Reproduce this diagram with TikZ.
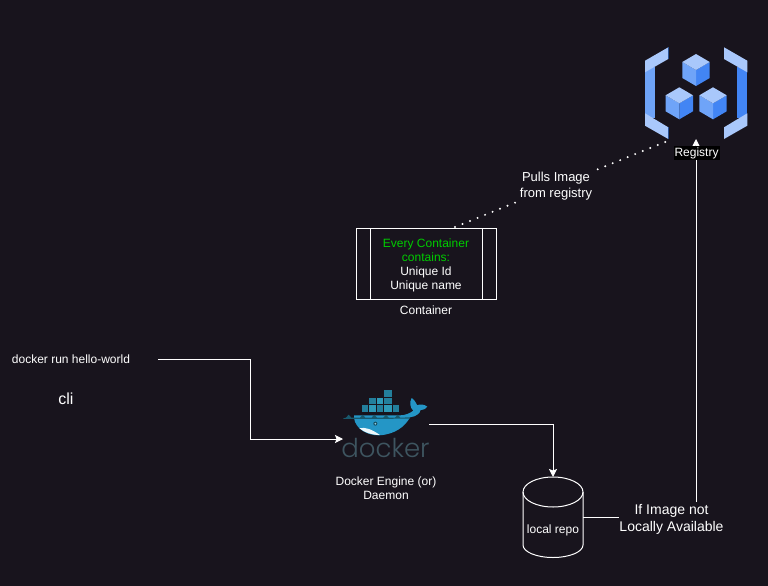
\documentclass[tikz,border=0pt]{standalone}
\usepackage{fontspec}
\setmainfont{Liberation Sans}
\newfontfamily\dockerfont[UprightFont=* Light]{Poppins}
\usetikzlibrary{arrows.meta,shapes.geometric}
\definecolor{bgc}{HTML}{18141D}
\definecolor{awsL}{HTML}{A9C8FB}
\definecolor{awsM}{HTML}{6FA4F8}
\definecolor{awsD}{HTML}{4285F4}
\definecolor{dkA}{HTML}{237F9C}
\definecolor{dkB}{HTML}{2E9AB8}
\definecolor{dkW}{HTML}{2496C6}
\definecolor{dkC}{HTML}{3DAFD8}
\definecolor{dkT}{HTML}{3E5560}
\tikzset{
  wire/.style={draw=white,line width=1pt},
  arr/.style={wire,-{Stealth[length=8pt,width=8pt,inset=1.5pt,fill=white]}},
  txt/.style={text=white,align=center,inner sep=0pt,font=\fontsize{12}{14}\selectfont},
  ghost/.style={inner sep=0pt,outer sep=0pt},
  dots/.style={draw=white,line width=2.2pt,line cap=round,dash pattern=on 0pt off 8.1pt},
  boxline/.style={draw=white,line width=1pt},
  blockA/.style={fill=dkA,draw=bgc,line width=0.3pt},
  blockB/.style={fill=dkB,draw=bgc,line width=0.3pt}
}
\newcommand{\cube}[2]{%
  \fill[awsD] (#1,#2+16) -- (#1+13.7,#2+8) -- (#1+13.7,#2+24) -- (#1,#2+32) -- cycle;
  \fill[awsM] (#1-13.7,#2+8) -- (#1,#2+16) -- (#1,#2+32) -- (#1-13.7,#2+24) -- cycle;
  \fill[awsL] (#1,#2) -- (#1+13.7,#2+8) -- (#1,#2+16) -- (#1-13.7,#2+8) -- cycle;
}
\begin{document}
\begin{tikzpicture}[x=1pt,y=-1pt]
\fill[bgc] (0,0) rectangle (768,586);
\useasboundingbox (0,0) rectangle (768,586);

% registry icon
\node[ghost,minimum width=102pt,minimum height=92pt] (registry) at (696,93) {};
\fill[awsM] (645,67) rectangle (655,118);
\fill[awsL] (668.3,47.3) -- (645,60.7) -- (645,72.3) -- (668.3,59) -- cycle;
\fill[awsL] (645,113.3) -- (668.3,127.3) -- (668.3,139) -- (645,125.7) -- cycle;
\draw[awsD!60!black,line width=0.6pt] (668.3,47.3) -- (668.3,59);
\draw[awsD!60!black,line width=0.6pt] (668.3,127.3) -- (668.3,139);
\fill[awsD] (737.3,67) rectangle (747.3,118);
\fill[awsL] (724,47.3) -- (747.3,60.7) -- (747.3,72.3) -- (724,59) -- cycle;
\fill[awsL] (747.3,113.3) -- (724,127.3) -- (724,139) -- (747.3,125.7) -- cycle;
\cube{696}{54}
\cube{679.3}{87.3}
\cube{713}{87.3}

% container
\node[ghost,draw=white,line width=1pt,minimum width=140pt,minimum height=71pt] (container) at (426,263.5) {};
\draw[boxline] (370,228) -- (370,299);
\draw[boxline] (482,228) -- (482,299);
\node[txt] (ctext) at (426,265.5) {\textcolor[HTML]{00CC00}{Every Container}\\[0pt]\textcolor[HTML]{00CC00}{contains:}\\Unique Id\\Unique name};
\node[txt] (clabel) at (426,310) {Container};

% docker logo
\node[ghost,minimum width=86pt,minimum height=76pt] (docker) at (386,424) {};
\begin{scope}[shift={(330,380)},x=0.3333pt,y=-0.3333pt]
  \filldraw[blockA] (160,28) rectangle (185,52);
  \filldraw[blockA] (115,52) rectangle (138,73);
  \filldraw[blockB] (138,52) rectangle (160,73);
  \filldraw[blockA] (160,52) rectangle (185,73);
  \filldraw[blockA] (92,73) rectangle (115,96);
  \filldraw[blockB] (115,73) rectangle (138,96);
  \filldraw[blockA] (138,73) rectangle (160,96);
  \filldraw[blockB] (160,73) rectangle (185,96);
  \filldraw[blockA] (185,73) rectangle (208,96);
  \fill[dkW] (72,114) .. controls (76,145) and (110,167) .. (148,166)
     .. controls (195,163) and (225,140) .. (240,112)
     .. controls (258,110) and (270,100) .. (272,90)
     .. controls (282,90) and (290,84) .. (292,80)
     .. controls (282,72) and (268,72) .. (262,76)
     .. controls (258,68) and (252,58) .. (245,54)
     .. controls (238,66) and (240,84) .. (250,92)
     .. controls (240,100) and (225,106) .. (210,106)
     -- (150,106) -- (72,106) -- cycle;
  \fill[dkA!70!black] (40,115) -- (48,113) -- (56,104) -- (64,113) -- (90,113) -- (98,104) -- (106,113) -- (125,113) -- (133,104) -- (141,113) -- (160,113) -- (168,104) -- (176,113) -- (195,113) -- (203,104) -- (211,113) -- (240,112) -- (240,116) -- (40,117) -- cycle;
  \fill[white!90!dkC] (88,145) .. controls (105,140) and (125,148) .. (150,165)
     .. controls (125,165) and (105,158) .. (88,145) -- cycle;
  \fill[dkA!60!black] (136,131) circle[radius=6];
  \fill[dkC!60!white] (136,131) circle[radius=3];
\end{scope}
\node[ghost,text=dkT,font=\dockerfont\fontsize{26}{26}\selectfont] (dockertext) at (385.5,447.5) {docker};
\node[txt] (dlabel) at (386,488) {Docker Engine (or)\\Daemon};

% repo
\node[ghost,minimum width=60pt,minimum height=80pt] (repo) at (553,517) {};
\draw[boxline] (523,492) -- (523,545) arc[start angle=180,end angle=0,x radius=30,y radius=12.5] -- (583,492);
\draw[boxline] (553,492) ellipse[x radius=30,y radius=15];
\node[txt] at (553,530) {local repo};

% cli
\node[txt,minimum width=174pt] (cli) at (71,359.5) {docker run hello-world};
\node[txt,font=\fontsize{16}{18}\selectfont] (clitext) at (66,399) {cli};

% if image
\node[txt,font=\fontsize{14}{17}\selectfont] (ifimg) at (671.5,519.5) {If Image not\\Locally Available};

% connectors
\draw[arr] (cli.east |- 0,359) -- (250,359) -- (250,439) -- (docker.west |- 0,439);
\draw[arr] (docker.east |- 0,424) -- (553,424) -- (repo.north);
\draw[wire] (repo.east) -- (ifimg.west |- repo.east);
\draw[arr] (696,502) -- (registry.south);

\coordinate (dotA) at (455,227);
\coordinate (dotB) at (670,140);
\draw[dots] (dotA) -- (dotB);
\node[txt,fill=bgc,inner sep=1pt,font=\fontsize{13}{16}\selectfont] (pull) at (556,186.5) {Pulls Image\\from registry};
\node[txt,fill=black,inner sep=1pt] (reglabel) at (696.5,153) {Registry};
\end{tikzpicture}
\end{document}
